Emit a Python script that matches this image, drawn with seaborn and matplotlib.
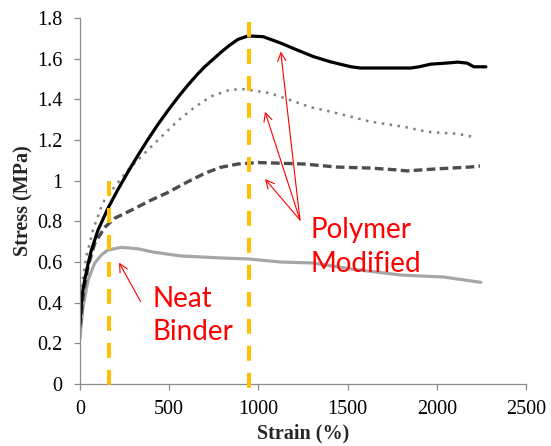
import numpy as np
import pandas as pd
import matplotlib
matplotlib.use("Agg")
import matplotlib.pyplot as plt
import seaborn as sns

# ---------------- data ----------------
strain_black = [0, 10, 26, 45, 64, 101, 157, 213, 269, 325, 381, 437, 493, 549, 605, 660, 699, 750,
                792, 840, 886, 942, 1027, 1124, 1216, 1309, 1402, 1477, 1520, 1573, 1700, 1854,
                1900, 1966, 2050, 2118, 2170, 2208, 2275]
stress_black = [0.30, 0.43, 0.51, 0.59, 0.659, 0.757, 0.865, 0.957, 1.043, 1.125, 1.203, 1.277,
                1.345, 1.41, 1.47, 1.525, 1.56, 1.60, 1.633, 1.667, 1.695, 1.712, 1.708, 1.677,
                1.643, 1.61, 1.585, 1.569, 1.56, 1.554, 1.554, 1.554, 1.56, 1.573, 1.578, 1.583,
                1.578, 1.56, 1.56]

strain_dotted = [0, 7, 35, 73, 120, 138, 194, 269, 362, 456, 549, 643, 736, 830, 904, 998, 1065,
                 1177, 1289, 1402, 1503, 1629, 1815, 1949, 2118, 2208]
stress_dotted = [0.32, 0.46, 0.626, 0.757, 0.872, 0.905, 0.97, 1.053, 1.135, 1.216, 1.295, 1.362,
                 1.415, 1.444, 1.451, 1.440, 1.43, 1.397, 1.362, 1.34, 1.318, 1.29, 1.265, 1.24,
                 1.23, 1.215]

strain_dashed = [0, 20, 45, 82, 138, 194, 288, 400, 488, 605, 699, 785, 886, 998, 1082, 1253, 1440,
                 1625, 1776, 1832, 2000, 2185, 2242]
stress_dashed = [0.28, 0.45, 0.577, 0.69, 0.77, 0.815, 0.855, 0.905, 0.94, 0.995, 1.036, 1.065,
                 1.082, 1.089, 1.087, 1.082, 1.067, 1.062, 1.053, 1.048, 1.058, 1.067, 1.072]

strain_neat = [0, 17, 45, 82, 120, 157, 232, 325, 409, 561, 785, 944, 1124, 1309, 1517, 1798, 2039,
               2247]
stress_neat = [0.226, 0.38, 0.51, 0.594, 0.635, 0.659, 0.672, 0.665, 0.649, 0.63, 0.62, 0.615, 0.60,
               0.595, 0.566, 0.536, 0.526, 0.50]

marker_strain = [160, 950]
marker_top = [1.0, 1.78]
marker_bottom = -0.03

x_ticks = [0, 500, 1000, 1500, 2000, 2500]
y_ticks = [0, 0.2, 0.4, 0.6, 0.8, 1.0, 1.2, 1.4, 1.6, 1.8]
y_tick_labels = ["0", "0.2", "0.4", "0.6", "0.8", "1", "1.2", "1.4", "1.6", "1.8"]

neat_arrow_tip = (219, 0.597)
neat_arrow_tail = (340, 0.405)
poly_arrow_tips = [(1125, 1.635), (1037, 1.339), (1037, 1.008)]
poly_arrow_tail = (1233, 0.807)

# ---------------- style ----------------
sns.set_style("ticks")
plt.rcParams["font.family"] = ["Liberation Serif", "DejaVu Serif"]

fig = plt.figure(figsize=(5.51, 4.46), dpi=100)
ax = fig.add_axes([80 / 551, 1 - 384 / 446, 446 / 551, 366 / 446])

sns.lineplot(x=strain_neat, y=stress_neat, ax=ax, color="#A6A6A6", linewidth=2.3,
             estimator=None, sort=False)
sns.lineplot(x=strain_dashed, y=stress_dashed, ax=ax, color="#4D4D4D", linewidth=2.4,
             linestyle=(0, (2.6, 1.3)), estimator=None, sort=False)
sns.lineplot(x=strain_dotted, y=stress_dotted, ax=ax, color="#808080", linewidth=1.8,
             linestyle=(0, (1, 2.2)), estimator=None, sort=False)
sns.lineplot(x=strain_black, y=stress_black, ax=ax, color="black", linewidth=2.3,
             estimator=None, sort=False)

for xs, top in zip(marker_strain, marker_top):
    ax.plot([xs, xs], [top, marker_bottom], color="#FFC000", linewidth=2.9,
            linestyle=(0, (3.7, 3.0)), clip_on=False, zorder=5)

arrow_kw = dict(arrowstyle="->,head_length=0.6,head_width=0.3", color="red", lw=0.8,
                shrinkA=0, shrinkB=0)
ax.annotate("", xy=neat_arrow_tip, xytext=neat_arrow_tail, arrowprops=arrow_kw)
for tip in poly_arrow_tips:
    ax.annotate("", xy=tip, xytext=poly_arrow_tail, arrowprops=arrow_kw)

ax.text(404, 0.216, "Neat\nBinder", color="red", fontsize=20, family=["Lato", "DejaVu Sans"],
        ha="left", va="baseline", linespacing=1.35)
ax.text(1293, 0.552, "Polymer\nModified", color="red", fontsize=20, family=["Lato", "DejaVu Sans"],
        ha="left", va="baseline", linespacing=1.35)

ax.set_xlim(0, 2500)
ax.set_ylim(0, 1.8)
ax.set_xticks(x_ticks)
ax.set_xticklabels([str(t) for t in x_ticks])
ax.set_yticks(y_ticks)
ax.set_yticklabels(y_tick_labels)

spine_color = "#8C8C8C"
for s in ["top", "right"]:
    ax.spines[s].set_visible(False)
for s in ["left", "bottom"]:
    ax.spines[s].set_color(spine_color)
    ax.spines[s].set_linewidth(0.9)
ax.tick_params(axis="both", direction="out", length=4.5, width=0.9, color=spine_color,
               labelsize=14.5, labelcolor="black")
ax.tick_params(axis="y", pad=8)
ax.tick_params(axis="x", pad=7)

ax.set_xlabel("Strain (%)", fontsize=14.5, fontweight="bold", labelpad=3)
ax.set_ylabel("Stress (MPa)", fontsize=14.5, fontweight="bold", labelpad=3)

fig.savefig("out.png", dpi=100)
